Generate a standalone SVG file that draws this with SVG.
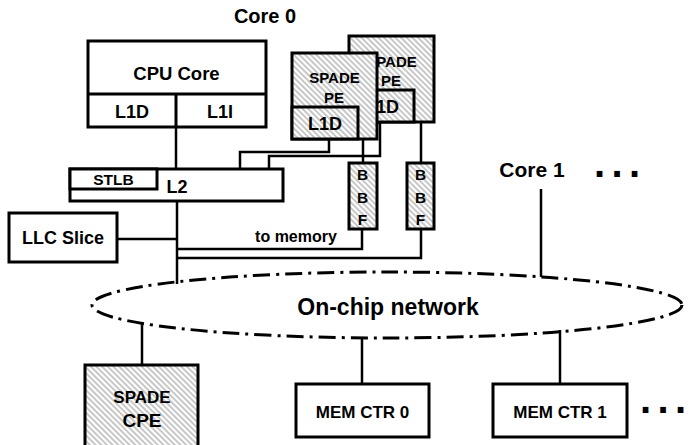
<svg xmlns="http://www.w3.org/2000/svg" width="697" height="445" viewBox="0 0 697 445">
<style>
.box{fill:#fff;stroke:#000;stroke-width:3}
.hb{fill:url(#hatch);stroke:#000;stroke-width:3}
.ln{fill:none;stroke:#000;stroke-width:2.5}
text{font-family:"Liberation Sans",Arial,Helvetica,sans-serif;font-weight:bold;fill:#000;text-anchor:middle}
.dots{text-anchor:start;letter-spacing:6.4px}
</style>
<defs>
<pattern id="hatch" patternUnits="userSpaceOnUse" width="4" height="4" patternTransform="rotate(-45)">
<rect width="4" height="4" fill="#fff"/>
<line x1="1" y1="0" x2="1" y2="4" stroke="#b0b0b0" stroke-width="1.4"/>
</pattern>
</defs>
<text x="265" y="23" font-size="20">Core 0</text>
<g id="connectors">
<path class="ln" d="M176 127V169"/>
<path class="ln" d="M240 169V152H329V139"/>
<path class="ln" d="M269 169V156H380V122"/>
<path class="ln" d="M363 139V163"/>
<path class="ln" d="M421 122V163"/>
<path class="ln" d="M177 201V284"/>
<path class="ln" d="M117 239H177"/>
<path class="ln" d="M177 249H362V229"/>
<path class="ln" d="M177 258H421V229"/>
<path class="ln" d="M541 189V277"/>
<path class="ln" d="M142 323V365"/>
<path class="ln" d="M362 337V384"/>
<path class="ln" d="M560 330V384"/>
<text x="296" y="242" font-size="16">to memory</text>
</g>
<g id="cpu-core">
<rect class="box" x="88" y="41" width="178" height="86"/>
<path class="ln" d="M88 94H266M176 94V127" style="stroke-width:3"/>
<text x="176.5" y="80" font-size="18.5">CPU Core</text>
<text x="132" y="118" font-size="18">L1D</text>
<text x="220" y="118" font-size="18">L1I</text>
</g>
<g id="l2">
<rect class="box" x="70" y="169" width="213" height="32"/>
<rect class="box" x="70" y="169" width="87" height="20"/>
<text x="113.5" y="185" font-size="15.5">STLB</text>
<text x="177" y="193" font-size="18">L2</text>
</g>
<g id="spade-pe-1">
<rect class="hb" x="349" y="36" width="85" height="86"/>
<rect class="hb" x="349" y="90" width="65" height="32"/>
<text x="391.5" y="67" font-size="15">SPADE</text>
<text x="391" y="86" font-size="15">PE</text>
<text x="382" y="113" font-size="18">L1D</text>
</g>
<g id="spade-pe-0">
<rect class="hb" x="292" y="53" width="85" height="86"/>
<rect class="hb" x="292" y="107" width="66" height="32"/>
<text x="334.5" y="83" font-size="15">SPADE</text>
<text x="334" y="103" font-size="15">PE</text>
<text x="325" y="130" font-size="18">L1D</text>
</g>
<g id="bbf-0">
<rect class="hb" x="349" y="163" width="28" height="66"/>
<text x="362.5" y="180" font-size="15.5">B</text>
<text x="362.5" y="203" font-size="15.5">B</text>
<text x="362.5" y="225" font-size="15.5">F</text>
</g>
<g id="bbf-1">
<rect class="hb" x="407" y="163" width="27" height="66"/>
<text x="420.5" y="180" font-size="15.5">B</text>
<text x="420.5" y="203" font-size="15.5">B</text>
<text x="420.5" y="225" font-size="15.5">F</text>
</g>
<g id="llc-slice">
<rect class="box" x="9" y="213" width="108" height="49"/>
<text x="63" y="244" font-size="18">LLC Slice</text>
</g>
<g id="core-1">
<text x="532" y="177" font-size="21">Core 1</text>
<text class="dots" x="594" y="177" font-size="40">...</text>
</g>
<g id="network">
<ellipse cx="387" cy="305" rx="295" ry="33" fill="none" stroke="#000" stroke-width="3" stroke-dasharray="17 6 3 6"/>
<text x="388" y="315" font-size="23">On-chip network</text>
</g>
<g id="spade-cpe">
<rect class="hb" x="85" y="365" width="113" height="90"/>
<text x="142" y="403" font-size="17">SPADE</text>
<text x="142" y="427" font-size="19">CPE</text>
</g>
<g id="mem-ctr-0">
<rect class="box" x="296" y="384" width="133" height="53"/>
<text x="362.5" y="418" font-size="17">MEM CTR 0</text>
</g>
<g id="mem-ctr-1">
<rect class="box" x="493" y="384" width="134" height="53"/>
<text x="560" y="418" font-size="17">MEM CTR 1</text>
<text class="dots" x="640" y="413" font-size="40">...</text>
</g>
</svg>
